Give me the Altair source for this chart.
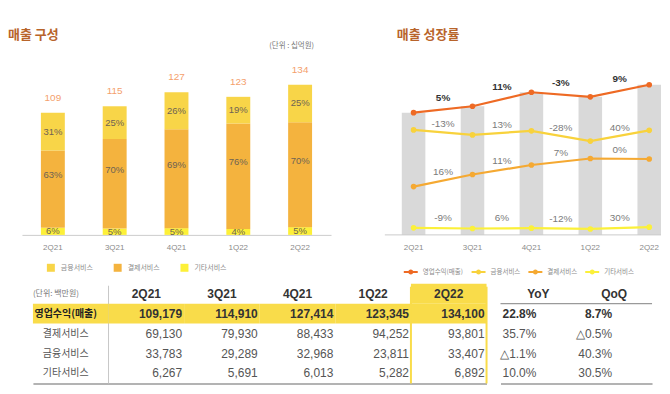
import altair as alt
import pandas as pd

# ---------------- data ----------------
quarters = ["2Q21", "3Q21", "4Q21", "1Q22", "2Q22"]
revenue = [109179, 114910, 127414, 123345, 134100]
payment = [69130, 79930, 88433, 94252, 93801]
finance = [33783, 29289, 32968, 23811, 33407]
other = [6267, 5691, 6013, 5282, 6892]
share_finance = ["31%", "25%", "26%", "19%", "25%"]
share_payment = ["63%", "70%", "69%", "76%", "70%"]
share_other = ["6%", "5%", "5%", "4%", "5%"]
services = ["금융서비스", "결제서비스", "기타서비스"]
series = ["영업수익(매출)", "금융서비스", "결제서비스", "기타서비스"]
row_labels = ["영업수익(매출)", "결제서비스", "금융서비스", "기타서비스"]
yoy = ["22.8%", "35.7%", "△1.1%", "10.0%"]
qoq = ["8.7%", "△0.5%", "40.3%", "30.5%"]
title_left = "매출 구성"
title_right = "매출 성장률"
unit_left = "(단위 : 십억원)"
unit_table = "(단위: 백만원)"

KR = "Noto Sans CJK KR"
NUM = "Liberation Sans"
service_colors = ["#F8D548", "#F4B33E", "#FDF038"]
line_colors = ["#EE6A24", "#F8D23C", "#F5A932", "#FBF03A"]
TITLE_COLOR = "#B8642B"
YELLOW = "#F9DC4A"
PH = 183  # plot height of top charts


def title_mark(text, x0):
    return alt.Chart(pd.DataFrame({"t": [text]})).mark_text(
        font=KR, fontSize=13, fontWeight="bold", color=TITLE_COLOR, align="left", baseline="middle"
    ).encode(x=alt.value(x0), y=alt.value(-17.5), text="t:N")


# ---------------- left: stacked bars ----------------
stack_rows = []
for i, q in enumerate(quarters):
    o, p, f = other[i] / 1000, payment[i] / 1000, finance[i] / 1000
    stack_rows.append(dict(quarter=q, service="기타서비스", value=o, order=0, mid=o / 2, share=share_other[i]))
    stack_rows.append(dict(quarter=q, service="결제서비스", value=p, order=1, mid=o + p / 2, share=share_payment[i]))
    stack_rows.append(dict(quarter=q, service="금융서비스", value=f, order=2, mid=o + p + f / 2, share=share_finance[i]))
stack_df = pd.DataFrame(stack_rows)
tot_df = pd.DataFrame({"quarter": quarters,
                       "total": [r / 1000 for r in revenue],
                       "label": [str(round(r / 1000)) for r in revenue]})

YDOM = [0, 163]
xl = alt.Scale(domain=quarters, range=[14, 324], paddingInner=0, paddingOuter=0)
yl = alt.Scale(domain=YDOM, nice=False, zero=False)
x_axis = alt.Axis(title=None, labelAngle=0, ticks=False, domainColor="#cccccc",
                  labelColor="#8a8a8a", labelFontSize=8, labelFont=NUM, labelPadding=9, grid=False)

bars = alt.Chart(stack_df).mark_bar(size=24).encode(
    x=alt.X("quarter:N", scale=xl, axis=x_axis, sort=quarters),
    y=alt.Y("value:Q", stack="zero", scale=yl, axis=None),
    color=alt.Color("service:N", scale=alt.Scale(domain=services, range=service_colors),
                    legend=alt.Legend(title=None, orient="none", legendX=39, legendY=212,
                                      direction="horizontal", symbolType="square", symbolSize=64,
                                      symbolStrokeWidth=0, labelFontSize=7, labelColor="#8a8a8a",
                                      labelFont=KR, columnPadding=20, labelOffset=6, padding=0)),
    order=alt.Order("order:Q"),
)


def share_text(svc, dy):
    return alt.Chart(stack_df[stack_df.service == svc]).mark_text(
        font=NUM, fontSize=9.5, color="#6e6354", dy=dy, baseline="middle"
    ).encode(x=alt.X("quarter:N", scale=xl), y=alt.Y("mid:Q", scale=yl), text="share:N")


totals = alt.Chart(tot_df).mark_text(font=NUM, fontSize=10, color="#F4A06C", dy=-15,
                                      baseline="middle").encode(
    x=alt.X("quarter:N", scale=xl), y=alt.Y("total:Q", scale=yl), text="label:N")

unit_l = alt.Chart(pd.DataFrame({"t": [unit_left]})).mark_text(
    font=KR, fontSize=7.5, color="#777777", align="right", baseline="middle"
).encode(x=alt.value(307), y=alt.value(-6), text="t:N")

left = alt.layer(bars, share_text("기타서비스", 0), share_text("결제서비스", -14),
                 share_text("금융서비스", 0), totals, unit_l, title_mark(title_left, 0)).properties(
    width=324, height=PH)

# ---------------- right: growth lines ----------------
RW = 260
xr = alt.Scale(domain=quarters, paddingInner=0.6, paddingOuter=0)
STEP = RW / 4.4
domains = {"영업수익(매출)": [0, 163], "기타서비스": [0, 163],
           "금융서비스": [-60, 103], "결제서비스": [26, 189]}
values = {"영업수익(매출)": revenue, "금융서비스": finance, "결제서비스": payment, "기타서비스": other}
label_dy = {"영업수익(매출)": -12, "금융서비스": -8, "결제서비스": -9, "기타서비스": -10}

grey = alt.Chart(tot_df).mark_bar(color="#D9D9D9").encode(
    x=alt.X("quarter:N", scale=xr, sort=quarters,
            axis=alt.Axis(title=None, labelAngle=0, ticks=False, domain=False, labelColor="#8a8a8a",
                          labelFontSize=8, labelFont=NUM, labelPadding=9, grid=False)),
    y=alt.Y("total:Q", scale=alt.Scale(domain=YDOM, nice=False, zero=False), axis=None))

base_rule = alt.Chart(pd.DataFrame({"a": [0]})).mark_rule(color="#cccccc", strokeWidth=1).encode(
    x=alt.value(-17), x2=alt.value(RW), y=alt.value(PH))

legend_r = alt.Legend(title=None, orient="none", legendX=1, legendY=212, direction="horizontal",
                      symbolType="M-1,0L1,0M-0.22,0A0.22,0.22,0,1,1,0.22,0A0.22,0.22,0,1,1,-0.22,0",
                      symbolSize=196, symbolStrokeWidth=2, labelFontSize=6.5, labelColor="#8a8a8a",
                      labelFont=KR, columnPadding=4, labelOffset=4, padding=0)

layers = [grey, base_rule]
text_layers = []
for s in series:
    v = values[s]
    ldf = pd.DataFrame({"quarter": quarters, "series": s, "value": [x / 1000 for x in v]})
    ys = alt.Scale(domain=domains[s], nice=False, zero=False)
    layers.append(alt.Chart(ldf).mark_line(
        strokeWidth=2.2, point=alt.OverlayMarkDef(filled=True, size=32)
    ).encode(
        x=alt.X("quarter:N", scale=xr),
        y=alt.Y("value:Q", scale=ys, axis=None),
        color=alt.Color("series:N", scale=alt.Scale(domain=series, range=line_colors), legend=legend_r)))
    gdf = pd.DataFrame({
        "quarter": quarters[:-1],
        "mid": [(v[i] + v[i + 1]) / 2000 for i in range(4)],
        "label": ["%d%%" % int(round((v[i + 1] / v[i] - 1) * 100)) for i in range(4)]})
    bold = s == "영업수익(매출)"
    text_layers.append(alt.Chart(gdf).mark_text(
        font=NUM, fontSize=10, fontWeight="bold" if bold else "normal",
        color="#333333" if bold else "#7a7a7a", dy=label_dy[s], dx=STEP / 2, baseline="middle"
    ).encode(x=alt.X("quarter:N", scale=xr),
             y=alt.Y("mid:Q", scale=ys, axis=None), text="label:N"))

right = alt.layer(*layers, *text_layers, title_mark(title_right, -5)).resolve_scale(y="independent").properties(
    width=RW, height=PH)

top = alt.hconcat(left, right, spacing=53).resolve_scale(color="independent", x="independent", y="independent")

# ---------------- table ----------------
TH = 100
rows_all = ["header"] + row_labels
ty = alt.Scale(domain=rows_all, paddingInner=0, paddingOuter=0)
tl_cols = ["label"] + quarters
txl = alt.Scale(domain=tl_cols, range=[25, 480], paddingInner=0, paddingOuter=0)
row_values = [revenue, payment, finance, other]

hl_df = pd.DataFrame([{"col": c, "row": row_labels[0]} for c in tl_cols] + [{"col": quarters[-1], "row": "header"}])
num_df = pd.DataFrame([{"col": q, "row": r, "t": f"{row_values[j][i]:,}"}
                       for j, r in enumerate(row_labels) for i, q in enumerate(quarters)])
hdr_df = pd.DataFrame({"col": quarters, "row": "header", "t": quarters})
lab_df = pd.DataFrame({"col": "label", "row": row_labels, "t": row_labels})

divider = alt.Chart(pd.DataFrame({"col": ["label"]})).mark_rule(color="#c8c8c8", strokeWidth=1).encode(
    x=alt.X("col:N", scale=txl, bandPosition=1,
            axis=alt.Axis(labels=False, ticks=False, title=None, grid=False,
                          domainColor="#9a9a9a", domainWidth=1.5)),
    y=alt.value(2), y2=alt.value(TH))
highlight = alt.Chart(hl_df).mark_rect(color=YELLOW).encode(
    x=alt.X("col:N", scale=txl), y=alt.Y("row:N", scale=ty, axis=None))
border_df = pd.DataFrame({"col": [quarters[-1]]})
border_l = alt.Chart(border_df).mark_rule(color=YELLOW, strokeWidth=2).encode(
    x=alt.X("col:N", scale=txl, bandPosition=0), y=alt.value(3), y2=alt.value(TH))
border_r = alt.Chart(border_df).mark_rule(color=YELLOW, strokeWidth=2).encode(
    x=alt.X("col:N", scale=txl, bandPosition=1), y=alt.value(3), y2=alt.value(TH))

hdr_t = alt.Chart(hdr_df).mark_text(font=NUM, fontSize=12, fontWeight="bold", color="#333333",
                                    baseline="middle").encode(
    x=alt.X("col:N", scale=txl), y=alt.Y("row:N", scale=ty), text="t:N")
unit_t = alt.Chart(pd.DataFrame({"col": ["label"], "row": ["header"], "t": [unit_table]})).mark_text(
    font=KR, fontSize=8, color="#777777", align="left", baseline="middle").encode(
    x=alt.X("col:N", scale=txl, bandPosition=0), y=alt.Y("row:N", scale=ty), text="t:N")
lab_bold = alt.Chart(lab_df[lab_df.row == row_labels[0]]).mark_text(
    font=KR, fontSize=10, fontWeight="bold", color="#222222", baseline="middle", dx=-5).encode(
    x=alt.X("col:N", scale=txl), y=alt.Y("row:N", scale=ty), text="t:N")
lab_norm = alt.Chart(lab_df[lab_df.row != row_labels[0]]).mark_text(
    font=KR, fontSize=10, color="#555555", baseline="middle", dx=-5).encode(
    x=alt.X("col:N", scale=txl), y=alt.Y("row:N", scale=ty), text="t:N")
num_bold = alt.Chart(num_df[num_df.row == row_labels[0]]).mark_text(
    font=NUM, fontSize=12, fontWeight="bold", color="#333333", align="right", baseline="middle", dx=-2).encode(
    x=alt.X("col:N", scale=txl, bandPosition=1), y=alt.Y("row:N", scale=ty), text="t:N")
num_norm = alt.Chart(num_df[num_df.row != row_labels[0]]).mark_text(
    font=NUM, fontSize=12, color="#555555", align="right", baseline="middle", dx=-2).encode(
    x=alt.X("col:N", scale=txl, bandPosition=1), y=alt.Y("row:N", scale=ty), text="t:N")

table_left = alt.layer(divider, highlight, border_l, border_r, hdr_t, unit_t, lab_bold, lab_norm,
                       num_bold, num_norm).properties(width=480, height=TH)

tr_cols = ["YoY", "QoQ"]
txr = alt.Scale(domain=tr_cols, range=[0, 152], paddingInner=0, paddingOuter=0)
rate_df = pd.DataFrame([{"col": "YoY", "row": r, "t": yoy[j]} for j, r in enumerate(row_labels)] +
                       [{"col": "QoQ", "row": r, "t": qoq[j]} for j, r in enumerate(row_labels)])
hdr_r = alt.Chart(pd.DataFrame({"col": tr_cols, "row": "header", "t": tr_cols})).mark_text(
    font=NUM, fontSize=12, fontWeight="bold", color="#333333", baseline="middle").encode(
    x=alt.X("col:N", scale=txr, axis=alt.Axis(labels=False, ticks=False, title=None, grid=False,
                                              domainColor="#9a9a9a", domainWidth=1.5)),
    y=alt.Y("row:N", scale=ty, axis=None), text="t:N")
hdr_line = alt.Chart(pd.DataFrame({"row": ["header"]})).mark_rule(color="#9a9a9a", strokeWidth=1.2).encode(
    y=alt.Y("row:N", scale=ty, bandPosition=1), x=alt.value(0), x2=alt.value(152))
rate_b = alt.Chart(rate_df[rate_df.row == row_labels[0]]).mark_text(
    font=NUM, fontSize=12, fontWeight="bold", color="#333333", align="right", baseline="middle", dx=-2).encode(
    x=alt.X("col:N", scale=txr, bandPosition=1), y=alt.Y("row:N", scale=ty), text="t:N")
rate_n = alt.Chart(rate_df[rate_df.row != row_labels[0]]).mark_text(
    font=NUM, fontSize=12, color="#555555", align="right", baseline="middle", dx=-2).encode(
    x=alt.X("col:N", scale=txr, bandPosition=1), y=alt.Y("row:N", scale=ty), text="t:N")
table_right = alt.layer(hdr_r, hdr_line, rate_b, rate_n).properties(width=152, height=TH)

bottom = alt.hconcat(table_left, table_right, spacing=12).resolve_scale(x="independent", y="independent")

chart = alt.vconcat(top, bottom, spacing=6).properties(
    padding={"left": 0, "top": 20, "right": 0, "bottom": 0}
).configure(font=KR).configure_view(stroke=None)

chart.save("out.html", embed_options={"renderer": "svg", "actions": False})
